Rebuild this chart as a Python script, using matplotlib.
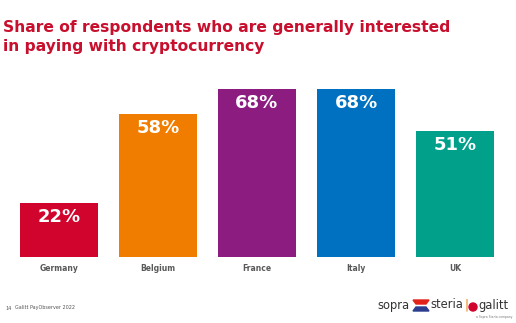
import matplotlib.pyplot as plt
from matplotlib.patches import Ellipse, Polygon

countries = ['Germany', 'Belgium', 'France', 'Italy', 'UK']
shares = [22, 58, 68, 68, 51]
colors = ['#d0042c', '#f07d00', '#8c1c80', '#0070c0', '#00a08a']

W, H = 516, 323
fig = plt.figure(figsize=(W / 100, H / 100), dpi=100)
ax = fig.add_axes([0.018, 0.2043, 0.960, 0.5356])


def px(x, y):
    # pixel position from top-left -> figure fraction
    return x / W, 1 - y / H


x = range(len(countries))
bars = ax.bar(x, shares, width=0.79, color=colors)
for b, v in zip(bars, shares):
    ax.text(b.get_x() + b.get_width() / 2, v - 2.2, f'{v}%', ha='center', va='top',
            color='white', fontsize=13, fontweight='bold')

ax.set_xlim(-0.5, len(countries) - 0.5)
ax.set_ylim(0, 70)
ax.set_xticks(list(x))
ax.set_xticklabels(countries, fontsize=5.5, fontweight='bold', color='#595959')
ax.tick_params(axis='x', length=0, pad=5)
ax.set_yticks([])
for s in ax.spines.values():
    s.set_visible(False)

# title
fig.text(*px(3, 20), 'Share of respondents who are generally interested\nin paying with cryptocurrency',
         ha='left', va='top', fontsize=11.2, fontweight='bold', color='#c8102e', linespacing=1.3)

# footer
fig.text(*px(5, 308), '14', fontsize=3.5, color='#555555', va='center')
fig.text(*px(15, 308), 'Galitt PayObserver 2022', fontsize=3.5, color='#555555', va='center')

# logos
fig.text(*px(377, 305), 'sopra', fontsize=8.3, color='#333333', va='center')
fig.add_artist(Polygon([px(413, 300), px(429, 300), px(426, 304), px(416, 304)],
                       transform=fig.transFigure, color='#e2231a'))
fig.add_artist(Polygon([px(416, 307), px(426, 307), px(429, 311), px(413, 311)],
                       transform=fig.transFigure, color='#2a3d8f'))
fig.text(*px(430, 305), 'steria', fontsize=8.3, color='#333333', va='center')
fig.text(*px(464, 305), '|', fontsize=8.3, color='#f07d00', va='center')
fig.add_artist(Ellipse(px(473, 307), 8 / W, 8 / H, transform=fig.transFigure, color='#d0042c'))
fig.text(*px(478, 305), 'galitt', fontsize=8.3, color='#333333', va='center')
fig.text(*px(476, 317), 'a Sopra Steria company', fontsize=2.2, color='#777777', va='center')

fig.savefig('out.png', dpi=100)
